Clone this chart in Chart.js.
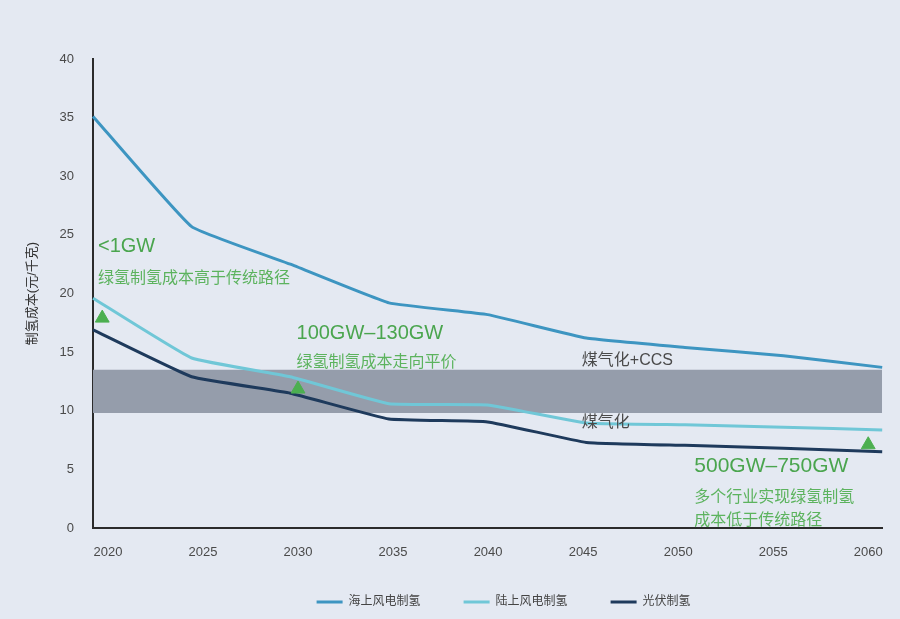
<!DOCTYPE html>
<html>
<head>
<meta charset="utf-8">
<script src="https://cdn.jsdelivr.net/npm/chart.js@4"></script>
<style>
  html, body { margin: 0; padding: 0; background: #e4e9f2; }
  #wrap { width: 900px; height: 619px; }
</style>
</head>
<body>
<div id="wrap"><canvas id="chartCost"></canvas></div>
<script>
const years = ["2020", "2025", "2030", "2035", "2040", "2045", "2050", "2055", "2060"];
const xTickLabels = [2020, 2025, 2030, 2035, 2040, 2045, 2050, 2055, 2060];

const offshoreWind = [35.1, 25.7, 22.5, 19.2, 18.2, 16.2, 15.4, 14.7, 13.7];
const onshoreWind = [19.6, 14.5, 12.9, 10.6, 10.5, 8.95, 8.8, 8.6, 8.35];
const solarPV = [16.9, 12.9, 11.5, 9.3, 9.05, 7.3, 7.05, 6.8, 6.5];

// 煤气化 / 煤气化+CCS cost band
const coalCcsTop = [13.5, 13.5, 13.5, 13.5, 13.5, 13.5, 13.5, 13.5, 13.5];
const coalBottom = [9.8, 9.8, 9.8, 9.8, 9.8, 9.8, 9.8, 9.8, 9.8];

// green triangles (installed capacity milestones)
const milestoneYears = [2019.7, 2030, 2060];
const milestoneValues = [17.9, 11.85, 7.1];

const lineNames = ["海上风电制氢", "陆上风电制氢", "光伏制氢"];

const GREEN = "#4aa54e";
const GREEN_LIGHT = "#5cb35e";
const FONT = '"Liberation Sans", "Noto Sans CJK SC", sans-serif';

// ==== TEXT NOTES (anchored in data space) ====
const notes = [
    { text: "<1GW", year: 2019.475, value: 23.97, size: 20, color: GREEN },
    { text: "绿氢制氢成本高于传统路径", year: 2019.475, value: 21.24, size: 16, color: GREEN_LIGHT },
    { text: "100GW–130GW", year: 2029.92, value: 16.63, size: 20, color: GREEN },
    { text: "绿氢制氢成本走向平价", year: 2029.92, value: 14.07, size: 16, color: GREEN_LIGHT },
    { text: "煤气化+CCS", year: 2044.93, value: 14.3, size: 16, color: "#4a4a4a" },
    { text: "煤气化", year: 2044.93, value: 8.96, size: 16, color: "#4a4a4a" },
    { text: "500GW–750GW", year: 2050.85, value: 5.29, size: 21, color: GREEN },
    { text: "多个行业实现绿氢制氢", year: 2050.85, value: 2.56, size: 16, color: GREEN_LIGHT },
    { text: "成本低于传统路径", year: 2050.85, value: 0.6, size: 16, color: GREEN_LIGHT }
];

const notesPlugin = {
    id: "notes",
    afterLayout(chart) {
        // legend sits a little right of centre and tighter under the axis in the original
        const lg = chart.legend;
        lg.left += 16;
        lg.right += 16;
        lg.top -= 20;
    },
    afterDatasetsDraw(chart) {
        const ctx = chart.ctx;
        const xs = chart.scales.x2;
        const ys = chart.scales.y;
        ctx.save();
        ctx.textAlign = "left";
        ctx.textBaseline = "middle";
        notes.forEach(n => {
            ctx.font = n.size + "px " + FONT;
            ctx.fillStyle = n.color;
            ctx.fillText(n.text, xs.getPixelForValue(n.year), ys.getPixelForValue(n.value));
        });
        ctx.restore();
    }
};

Chart.defaults.font.family = FONT;

new Chart(document.getElementById("chartCost"), {
    type: "line",
    data: {
        labels: years,
        datasets: [
            { label: lineNames[0], data: offshoreWind, borderColor: "#3d95c1", backgroundColor: "#3d95c1", borderWidth: 3, pointRadius: 0, tension: 0.1, order: 1 },
            { label: lineNames[1], data: onshoreWind, borderColor: "#70c7d7", backgroundColor: "#70c7d7", borderWidth: 3, pointRadius: 0, tension: 0.1, order: 1 },
            { label: lineNames[2], data: solarPV, borderColor: "#1e3a5c", backgroundColor: "#1e3a5c", borderWidth: 3, pointRadius: 0, tension: 0.1, order: 1 },
            { label: "煤气化+CCS", data: coalCcsTop, borderWidth: 0, borderColor: "rgba(0,0,0,0)", pointRadius: 0, fill: false, order: 10 },
            { label: "煤气化", data: coalBottom, borderWidth: 0, borderColor: "rgba(0,0,0,0)", pointRadius: 0, fill: "-1", backgroundColor: "#959dab", order: 10 },
            {
                type: "scatter",
                label: "milestones",
                xAxisID: "x2",
                data: milestoneYears.map((x, i) => ({ x, y: milestoneValues[i] })),
                pointStyle: "triangle",
                pointRadius: 8,
                backgroundColor: "#4caf50",
                borderColor: "#4caf50",
                order: 0
            }
        ]
    },
    options: {
        responsive: true,
        maintainAspectRatio: false,
        animation: false,
        layout: { padding: { left: 0, right: 16, top: 59, bottom: 1 } },
        plugins: {
            tooltip: { enabled: false },
            legend: {
                position: "bottom",
                fullSize: false,
                maxHeight: 45,
                labels: {
                    filter: item => lineNames.includes(item.text),
                    usePointStyle: true,
                    pointStyle: "line",
                    pointStyleWidth: 26,
                    boxHeight: 3,
                    padding: 43,
                    color: "#444",
                    font: { size: 12 }
                }
            }
        },
        scales: {
            x: { type: "category", display: false },
            x2: {
                type: "linear",
                position: "bottom",
                min: 2019.213,
                max: 2060.735,
                afterBuildTicks: scale => { scale.ticks = xTickLabels.map(v => ({ value: v })); },
                afterFit: scale => { scale.height = 45; },
                grid: { display: false, drawTicks: false },
                border: { display: true, color: "#2b2b2b", width: 2 },
                ticks: {
                    callback: v => String(v),
                    color: "#4a4a4a",
                    font: { size: 13 },
                    padding: 17,
                    maxRotation: 0
                }
            },
            y: {
                min: 0,
                max: 40,
                afterFit: scale => { scale.width = 93; },
                grid: { display: false, drawTicks: false },
                border: { display: true, color: "#2b2b2b", width: 2 },
                ticks: { stepSize: 5, color: "#4a4a4a", font: { size: 13 }, padding: 19 },
                title: {
                    display: true,
                    text: "制氢成本(元/千克)",
                    color: "#333",
                    font: { size: 13 },
                    padding: { top: 25, bottom: 0 }
                }
            }
        }
    },
    plugins: [notesPlugin]
});
</script>
</body>
</html>
